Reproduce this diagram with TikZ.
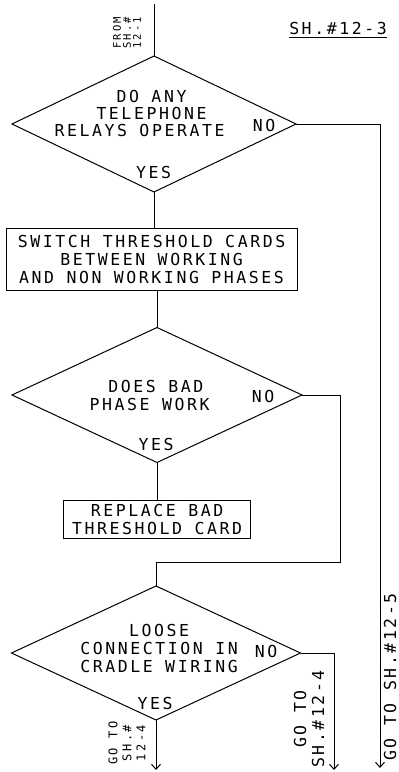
\documentclass[tikz,border=0pt]{standalone}
\usepackage{fontspec}
\newfontfamily\plotfont{DejaVu Sans Mono}[LetterSpace=15.6]
\newfontfamily\plotsmall{DejaVu Sans Mono}[LetterSpace=21]
\usetikzlibrary{shapes.geometric,arrows.meta,calc}
\begin{document}
\begin{tikzpicture}[x=1pt,y=-1pt,line width=1pt,
  txt/.style={inner sep=0pt,align=center,font=\plotfont\fontsize{16.5}{18}\selectfont},
  txttight/.style={inner sep=0pt,align=center,font=\plotfont\fontsize{16.5}{17}\selectfont},
  smalltxt/.style={inner sep=0pt,align=center,font=\plotsmall\fontsize{12}{14}\selectfont},
  tinytxt/.style={inner sep=0pt,align=center,font=\plotsmall\fontsize{10.5}{10}\selectfont},
  dia/.style={draw,diamond,inner sep=0pt,outer sep=0pt},
  box/.style={draw,rectangle,inner sep=0pt,outer sep=0pt,align=center,font=\plotfont\fontsize{16.5}{18}\selectfont},
  arr/.style={-{Straight Barb[length=5pt,width=9pt]}}]
\useasboundingbox (0,0) rectangle (399,772);

% sheet label
\node[txt] (sh) at (338,28) {SH.\#12-3};
\draw ($(sh.south west)+(0,3)$) -- ($(sh.south east)+(0,3)$);

% entry
\coordinate (start) at (154,4);
\node[tinytxt,rotate=90] (from) at (127,33) {FROM\\SH.\#\\12-1};

% decision 1
\node[dia,minimum width=284,minimum height=136] (d1) at (154,124) {};
\node[txttight] (t1) at (139.5,113) {\hspace*{24pt}DO ANY\\\hspace*{24pt}TELEPHONE\\RELAYS OPERATE};
\node[txt] (no1) at (264,125) {NO};
\node[txt] (yes1) at (153.5,172) {YES};

% box 1
\node[box,minimum width=291,minimum height=62] (b1) at (151.5,259)
  {SWITCH THRESHOLD CARDS\\BETWEEN WORKING\hspace*{12.6pt}\\AND NON WORKING PHASES};

% decision 2
\node[dia,minimum width=290,minimum height=135] (d2) at (157,395) {};
\node[txt] (t2) at (149.5,395) {\hspace*{12.6pt}DOES BAD\\PHASE WORK};
\node[txt] (no2) at (263,396) {NO};
\node[txt] (yes2) at (156,444) {YES};

% box 2
\node[box,minimum width=187,minimum height=38] (b2) at (157,519) {REPLACE BAD\\THRESHOLD CARD};

% decision 3
\node[dia,minimum width=289,minimum height=134] (d3) at (156,653) {};
\node[txt] (t3) at (159,648) {LOOSE\\CONNECTION IN\\CRADLE WIRING};
\node[txt] (no3) at (266,651) {NO};
\node[txt] (yes3) at (155,703) {YES};

% exits
\coordinate (e5) at (380,768);
\coordinate (j1) at (340,562);
\coordinate (e4) at (334,770);
\coordinate (e3) at (156,770);
\node[txt,rotate=90] (g5) at (390,677) {GO TO SH.\#12-5};
\node[txt,rotate=90] (g4) at (309,719) {GO TO\\SH.\#12-4};
\node[smalltxt,rotate=90] (g3) at (127,743) {GO TO\\SH.\#\\12-4};

% connectors
\draw (start) -- (d1.north);
\draw[arr] (d1.east) -| (e5);
\draw (d1.south) -- (d1.south |- b1.north);
\draw (d2.north |- b1.south) -- (d2.north);
\draw (d2.south) -- (b2.north);
\draw (d2.east) -| (j1) -| (d3.north);
\draw[arr] (d3.south) -- (e3);
\draw[arr] (d3.east) -| (e4);
\end{tikzpicture}
\end{document}
